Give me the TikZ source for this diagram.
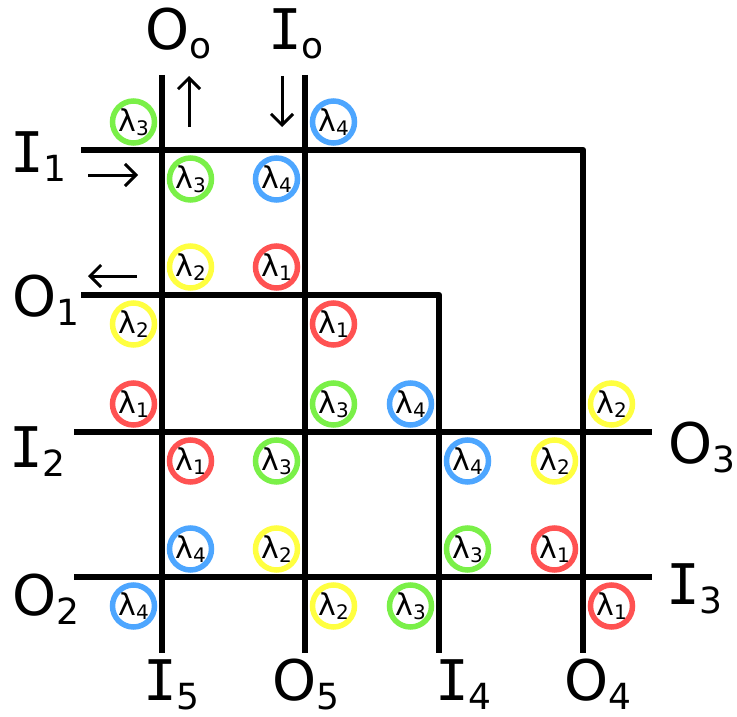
\documentclass[tikz,border=0pt]{standalone}
\usepackage{fontspec}
\setmainfont{DejaVu Sans}
\newfontfamily\monoI{DejaVu Sans Mono}
\usetikzlibrary{arrows.meta}
\definecolor{lgreen}{RGB}{122,240,72}
\definecolor{lblue}{RGB}{77,166,255}
\definecolor{lred}{RGB}{255,82,82}
\definecolor{lyellow}{RGB}{255,255,64}
\newcommand{\bigO}[1]{{\fontsize{56}{56}\selectfont O}\raisebox{-9pt}{\fontsize{36}{36}\selectfont #1}}
\newcommand{\bigI}[1]{{\fontsize{56}{56}\selectfont\monoI I}\raisebox{-9pt}{\fontsize{36}{36}\selectfont #1}}
\newcommand{\lam}[1]{{\fontsize{30}{30}\selectfont λ}\raisebox{-4pt}{\fontsize{20}{20}\selectfont #1}}
\tikzset{
  fiber/.style={line width=6.5pt, line join=round},
  ptr/.style={line width=3pt, -{Straight Barb[length=11pt,width=22pt]}},
  lbl/.style={inner sep=0pt, anchor=base west},
  wl/.style={circle, draw=#1, line width=5.5pt, minimum size=42pt, inner sep=0pt},
}
\begin{document}
\begin{tikzpicture}[x=1pt,y=-1pt]
\useasboundingbox (0,0) rectangle (737,717);
% end points
\coordinate (v1t) at (162,75);  \coordinate (v1b) at (162,653);
\coordinate (v2t) at (305,75);  \coordinate (v2b) at (305,653);
\coordinate (h1l) at (81,150);  \coordinate (h1c) at (583,150); \coordinate (v4b) at (583,653);
\coordinate (h2l) at (81,295);  \coordinate (h2c) at (439,295); \coordinate (v3b) at (439,653);
\coordinate (h3l) at (74,432);  \coordinate (h3r) at (652,432);
\coordinate (h4l) at (74,577);  \coordinate (h4r) at (652,577);
\draw[fiber] (v1t) -- (v1b);
\draw[fiber] (v2t) -- (v2b);
\draw[fiber] (h1l) -- (h1c) -- (v4b);
\draw[fiber] (h2l) -- (h2c) -- (v3b);
\draw[fiber] (h3l) -- (h3r);
\draw[fiber] (h4l) -- (h4r);
% direction arrows
\coordinate (upS) at (189,127); \coordinate (upE) at (189,76);
\coordinate (dnS) at (282,76);  \coordinate (dnE) at (282,127);
\coordinate (rtS) at (88,175);  \coordinate (rtE) at (138,175);
\coordinate (ltS) at (137,276); \coordinate (ltE) at (88,276);
\draw[ptr] (upS) -- (upE);
\draw[ptr] (dnS) -- (dnE);
\draw[ptr] (rtS) -- (rtE);
\draw[ptr] (ltS) -- (ltE);
% port labels
\node[lbl] (Oo) at (145,50) {\bigO{o}};
\node[lbl] (Io) at (268,50) {\bigI{o}};
\node[lbl] (I1) at (10,172) {\bigI{1}};
\node[lbl] (O1) at (12,316) {\bigO{1}};
\node[lbl] (I2) at (9,467) {\bigI{2}};
\node[lbl] (O2) at (12,615) {\bigO{2}};
\node[lbl] (O3) at (668,463) {\bigO{3}};
\node[lbl] (I3) at (666,604) {\bigI{3}};
\node[lbl] (I5) at (143,700) {\bigI{5}};
\node[lbl] (O5) at (272,700) {\bigO{5}};
\node[lbl] (I4) at (435,700) {\bigI{4}};
\node[lbl] (O4) at (564,700) {\bigO{4}};
% wavelength circles
\node[wl=lgreen]  (a1) at (133.5,122) {\lam{3}};
\node[wl=lgreen]  (a2) at (190.5,179) {\lam{3}};
\node[wl=lblue]   (b1) at (333.5,122) {\lam{4}};
\node[wl=lblue]   (b2) at (276.5,179) {\lam{4}};
\node[wl=lyellow] (c1) at (190.5,267) {\lam{2}};
\node[wl=lyellow] (c2) at (133.5,324) {\lam{2}};
\node[wl=lred]    (d1) at (276.5,267) {\lam{1}};
\node[wl=lred]    (d2) at (333.5,324) {\lam{1}};
\node[wl=lred]    (e1) at (133.5,404) {\lam{1}};
\node[wl=lred]    (e2) at (190.5,461) {\lam{1}};
\node[wl=lgreen]  (f1) at (333.5,404) {\lam{3}};
\node[wl=lgreen]  (f2) at (276.5,461) {\lam{3}};
\node[wl=lblue]   (g1) at (410.5,404) {\lam{4}};
\node[wl=lblue]   (g2) at (467.5,461) {\lam{4}};
\node[wl=lyellow] (k1) at (611.5,404) {\lam{2}};
\node[wl=lyellow] (k2) at (554.5,461) {\lam{2}};
\node[wl=lblue]   (j1) at (190.5,549) {\lam{4}};
\node[wl=lblue]   (j2) at (133.5,606) {\lam{4}};
\node[wl=lyellow] (m1) at (276.5,549) {\lam{2}};
\node[wl=lyellow] (m2) at (333.5,606) {\lam{2}};
\node[wl=lgreen]  (n1) at (467.5,549) {\lam{3}};
\node[wl=lgreen]  (n2) at (410.5,606) {\lam{3}};
\node[wl=lred]    (p1) at (554.5,549) {\lam{1}};
\node[wl=lred]    (p2) at (611.5,606) {\lam{1}};
\end{tikzpicture}
\end{document}
